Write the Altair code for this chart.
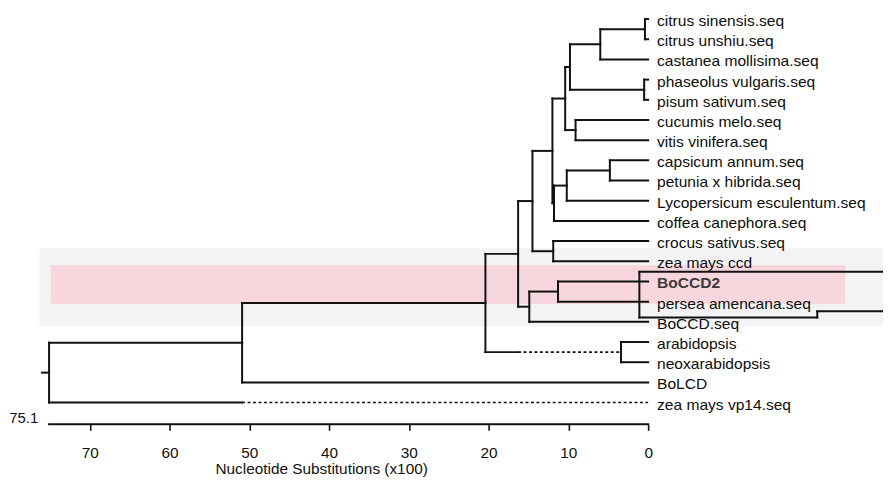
import altair as alt
import pandas as pd

# ---------------- data ----------------
leaves = [
    "citrus sinensis.seq", "citrus unshiu.seq", "castanea mollisima.seq",
    "phaseolus vulgaris.seq", "pisum sativum.seq", "cucumis melo.seq",
    "vitis vinifera.seq", "capsicum annum.seq", "petunia x hibrida.seq",
    "Lycopersicum esculentum.seq", "coffea canephora.seq", "crocus sativus.seq",
    "zea mays ccd", "BoCCD2", "persea amencana.seq", "BoCCD.seq",
    "arabidopsis", "neoxarabidopsis", "BoLCD", "zea mays vp14.seq",
]
# internal nodes (bottom-up): name, depth (x100 substitutions), children
node_names = ["n1", "n2", "n3", "n4", "n5", "n6", "n7", "n8", "n9", "n10",
              "n11", "n12", "n13", "n14", "n15", "n16", "n17", "n18", "root"]
node_depths = [0.4, 6.0, 0.5, 9.8, 9.1, 10.4, 4.8, 10.2, 11.8, 12.0,
               11.9, 14.5, 11.3, 14.9, 16.3, 3.4, 20.4, 50.9, 75.1]
node_children = [
    ["citrus sinensis.seq", "citrus unshiu.seq"],
    ["n1", "castanea mollisima.seq"],
    ["phaseolus vulgaris.seq", "pisum sativum.seq"],
    ["n2", "n3"],
    ["cucumis melo.seq", "vitis vinifera.seq"],
    ["n4", "n5"],
    ["capsicum annum.seq", "petunia x hibrida.seq"],
    ["n7", "Lycopersicum esculentum.seq"],
    ["n8", "coffea canephora.seq"],
    ["n6", "n9"],
    ["crocus sativus.seq", "zea mays ccd"],
    ["n10", "n11"],
    ["BoCCD2", "persea amencana.seq"],
    ["n13", "BoCCD.seq"],
    ["n12", "n14"],
    ["arabidopsis", "neoxarabidopsis"],
    ["n15", "n16"],
    ["n17", "BoLCD"],
    ["n18", "zea mays vp14.seq"],
]
root_stem = 0.9
dashed_branch = ["n16", "zea mays vp14.seq"]
dashed_from = [16.3, 50.9]
bold_leaves = ["BoCCD2"]
axis_ticks = [70, 60, 50, 40, 30, 20, 10, 0]
root_label = "75.1"
x_title = "Nucleotide Substitutions (x100)"

# scanner highlight bands, in (depth, row) units
band_x = [76.3, 74.9]
band_x2 = [-29.5, -24.7]
band_y = [12.35, 13.2]
band_y2 = [16.2, 15.1]
band_color = ["#f3f3f5", "#f8d6dd"]

# hand-drawn box around BoCCD2 / persea, in (depth, row) units
box_x = [1.1, 1.1, 1.1, -21.2, -21.2]
box_x2 = [-29.5, 1.1, -21.2, -21.2, -29.5]
box_y = [13.52, 13.52, 15.78, 15.48, 15.48]
box_y2 = [13.52, 15.78, 15.78, 15.78, 15.48]

# ---------------- layout ----------------
FONT = "Liberation Sans"
INK = "#111111"
PX_PER_UNIT = 8.05
ZERO_PX = 646.0
W, H = 883, 418
ROW_TOP_PX = 9.0
ROW_STEP = 20.37
x_dom = [ZERO_PX / PX_PER_UNIT, (ZERO_PX - W) / PX_PER_UNIT]
y_dom = [1 - ROW_TOP_PX / ROW_STEP, 1 + (H - ROW_TOP_PX) / ROW_STEP]

# ---------------- tree geometry from the data ----------------
row = {name: i + 1 for i, name in enumerate(leaves)}
depth = {name: 0.0 for name in leaves}
for name, d, kids in zip(node_names, node_depths, node_children):
    depth[name] = d
    rs = [row[k] for k in kids]
    row[name] = (min(rs) + max(rs)) / 2

dash_map = dict(zip(dashed_branch, dashed_from))
segs = []
for name, d, kids in zip(node_names, node_depths, node_children):
    rs = [row[k] for k in kids]
    segs.append(dict(x=d, x2=d, y=min(rs), y2=max(rs), style="solid"))
    for k in kids:
        if k in dash_map:
            m = dash_map[k]
            segs.append(dict(x=d, x2=m, y=row[k], y2=row[k], style="solid"))
            segs.append(dict(x=m, x2=depth[k], y=row[k], y2=row[k], style="dashed"))
        else:
            segs.append(dict(x=d, x2=depth[k], y=row[k], y2=row[k], style="solid"))
root_depth = depth["root"]
segs.append(dict(x=root_depth + root_stem, x2=root_depth, y=row["root"], y2=row["root"], style="solid"))
# axis base line from root depth to 0
segs.append(dict(x=root_depth, x2=0.0, y=y_dom[1], y2=y_dom[1], style="solid"))
seg_df = pd.DataFrame(segs)

labels_df = pd.DataFrame({
    "x": [0.0] * len(leaves),
    "y": [row[l] for l in leaves],
    "label": leaves,
    "bold": [l in bold_leaves for l in leaves],
})
bands_df = pd.DataFrame({"x": band_x, "x2": band_x2, "y": band_y, "y2": band_y2, "color": band_color})
box_df = pd.DataFrame({"x": box_x, "x2": box_x2, "y": box_y, "y2": box_y2})
root_df = pd.DataFrame({"x": [root_depth], "y": [y_dom[1]], "label": [root_label]})

xs = alt.Scale(domain=x_dom, nice=False, zero=False)
ys = alt.Scale(domain=y_dom, nice=False, zero=False, reverse=True)
x_axis = alt.Axis(
    values=axis_ticks, format="d", domain=False, grid=False,
    tickSize=6, tickWidth=1.6, tickColor=INK,
    labelFont=FONT, labelFontSize=15.5, labelColor=INK, labelPadding=15,
    labelFlush=False, labelOverlap=False,
    title=x_title, titleFont=FONT, titleFontSize=15.5, titleFontWeight="normal",
    titleColor=INK, titleX=316, titleY=50, titleBaseline="alphabetic", titleAlign="center",
)
X = lambda: alt.X("x:Q", scale=xs, axis=x_axis)
Y = lambda: alt.Y("y:Q", scale=ys, axis=None)

bands = alt.Chart(bands_df).mark_rect().encode(
    x=X(), x2="x2:Q", y=Y(), y2="y2:Q", color=alt.Color("color:N", scale=None)
)
solid = alt.Chart(seg_df).transform_filter(alt.datum.style == "solid").mark_rule(
    color=INK, strokeWidth=2, strokeCap="square"
).encode(x=X(), x2="x2:Q", y=Y(), y2="y2:Q")
dashed = alt.Chart(seg_df).transform_filter(alt.datum.style == "dashed").mark_rule(
    color=INK, strokeWidth=1.6, strokeDash=[3, 2.5]
).encode(x=X(), x2="x2:Q", y=Y(), y2="y2:Q")
box = alt.Chart(box_df).mark_rule(color=INK, strokeWidth=2, strokeCap="square").encode(
    x=X(), x2="x2:Q", y=Y(), y2="y2:Q"
)
text_norm = alt.Chart(labels_df).transform_filter(alt.datum.bold == False).mark_text(
    align="left", baseline="middle", dx=9, dy=2, font=FONT, fontSize=15.7, color="#0d0d0d"
).encode(x=X(), y=Y(), text="label:N")
text_bold = alt.Chart(labels_df).transform_filter(alt.datum.bold == True).mark_text(
    align="left", baseline="middle", dx=9, dy=2, font=FONT, fontSize=15.7, fontWeight="bold", color="#3a3a3a"
).encode(x=X(), y=Y(), text="label:N")
root_txt = alt.Chart(root_df).mark_text(
    align="right", baseline="middle", dx=-11, dy=-6, font=FONT, fontSize=15, color=INK
).encode(x=X(), y=Y(), text="label:N")

chart = alt.layer(bands, solid, dashed, box, text_norm, text_bold, root_txt).properties(
    width=W, height=H, autosize="none",
    padding={"left": 0, "top": 0, "right": 0, "bottom": 54},
    background="white",
).configure_view(stroke=None)

chart.save("out.html", embed_options={"renderer": "svg", "actions": False})
